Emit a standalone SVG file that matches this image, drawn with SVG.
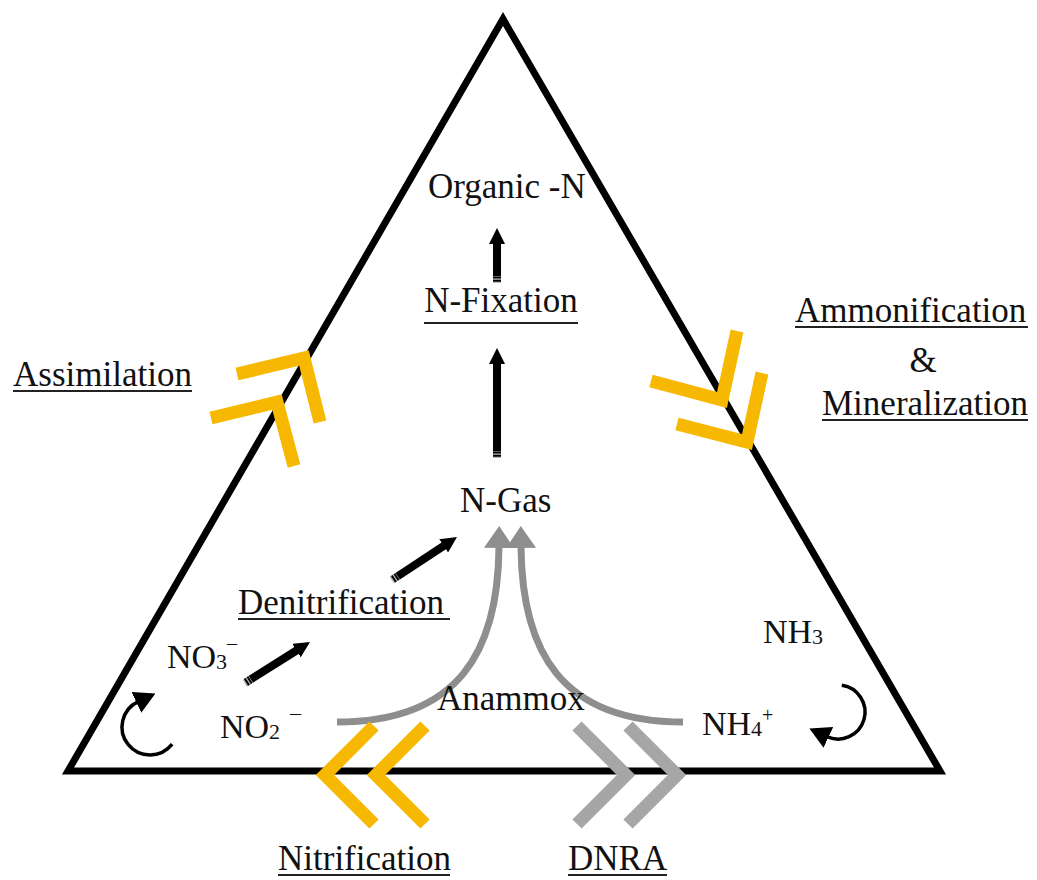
<svg xmlns="http://www.w3.org/2000/svg" width="1037" height="880" viewBox="0 0 1037 880">
<style>
  text { font-family: "Liberation Serif", "Times New Roman", serif; fill: #111; }
  .lbl { font-size: 35px; }
  .chem { font-size: 34px; }
  .sub { font-size: 22px; }
  .ul { stroke: #222; stroke-width: 2; }
  .yel { fill: none; stroke: #F6B800; stroke-width: 13; stroke-linejoin: miter; stroke-linecap: butt; }
  .gch { fill: none; stroke: #A6A6A6; stroke-width: 13; stroke-linejoin: miter; stroke-linecap: butt; }
  .blk { fill: none; stroke: #000; stroke-width: 8; marker-end: url(#hb); }
  .stripe { fill: none; stroke: #fff; stroke-width: 9; stroke-dasharray: 1.2 2; opacity: 0.75; }
  .gray { fill: none; stroke: #8E8E8E; stroke-width: 7; marker-end: url(#hg); }
  .curl { fill: none; stroke: #000; stroke-width: 3.5; marker-end: url(#hc); }
</style>
<defs>
  <marker id="hb" markerUnits="userSpaceOnUse" viewBox="0 0 16 16" markerWidth="16" markerHeight="16" refX="1" refY="8" orient="auto">
    <path d="M0,0 L16,8 L0,16 z" fill="#000"/>
  </marker>
  <marker id="hg" markerUnits="userSpaceOnUse" viewBox="0 0 22 30" markerWidth="22" markerHeight="30" refX="1" refY="15" orient="auto">
    <path d="M0,0 L22,15 L0,30 z" fill="#8E8E8E"/>
  </marker>
  <marker id="hc" markerUnits="userSpaceOnUse" viewBox="0 0 21 23" markerWidth="21" markerHeight="23" refX="2" refY="11.5" orient="auto">
    <path d="M0,0 L21,11.5 L0,23 z" fill="#000"/>
  </marker>
</defs>
<rect width="1037" height="880" fill="#fff"/>

<g id="triangle">
  <polygon points="503,19 68,771 940,771" fill="none" stroke="#000" stroke-width="7" stroke-linejoin="miter"/>
</g>

<g id="connectors">
  <line class="blk" x1="497" y1="283" x2="497" y2="243"/>
  <line class="stripe" x1="497" y1="283" x2="497" y2="276"/>
  <line class="blk" x1="497" y1="458" x2="497" y2="363"/>
  <line class="stripe" x1="497" y1="458" x2="497" y2="451"/>
  <line class="blk" x1="392" y1="580" x2="444.5" y2="545.3"/>
  <line class="stripe" x1="392" y1="580" x2="397.8" y2="576.2"/>
  <line class="blk" x1="245" y1="683" x2="297.3" y2="650"/>
  <line class="stripe" x1="245" y1="683" x2="250.9" y2="679.3"/>
  <path class="gray" d="M337,722 C460,722 498,650 499,547"/>
  <path class="gray" d="M683,722 C560,722 522,650 521,547"/>
  <path class="curl" d="M172.1,744.2 A28,28 0 1 1 138.2,701.6"/>
  <path class="curl" d="M841.8,685.3 A27,27 0 1 1 826.6,736.5"/>
  <g id="assimilation-chevrons">
    <polyline class="yel" points="237,374 304,358 320,422"/>
    <polyline class="yel" points="211,418 277,402 294,466"/>
  </g>
  <g id="ammonification-chevrons">
    <polyline class="yel" points="651,381 722,400 737,331"/>
    <polyline class="yel" points="677,424 747,442 762,373"/>
  </g>
  <g id="nitrification-chevrons">
    <polyline class="yel" points="374,726 325,775 374,824"/>
    <polyline class="yel" points="425,726 376,775 425,824"/>
  </g>
  <g id="dnra-chevrons">
    <polyline class="gch" points="577,726 626,775 577,824"/>
    <polyline class="gch" points="628,726 677,775 628,824"/>
  </g>
</g>

<g id="organic-n"><text class="lbl" x="428" y="198">Organic -N</text></g>
<g id="n-fixation">
  <text class="lbl" x="501" y="312" text-anchor="middle">N-Fixation</text>
  <line class="ul" x1="424" y1="323" x2="578" y2="323"/>
</g>
<g id="n-gas"><text class="lbl" x="460" y="512">N-Gas</text></g>
<g id="assimilation">
  <text class="lbl" x="13" y="386">Assimilation</text>
  <line class="ul" x1="13" y1="391" x2="192" y2="391"/>
</g>
<g id="ammonification">
  <text class="lbl" x="795" y="322">Ammonification</text>
  <line class="ul" x1="795" y1="327" x2="1028" y2="327"/>
  <text class="lbl" x="923" y="372" text-anchor="middle">&amp;</text>
  <text class="lbl" x="822" y="415">Mineralization</text>
  <line class="ul" x1="822" y1="420" x2="1028" y2="420"/>
</g>
<g id="denitrification">
  <text class="lbl" x="238" y="614">Denitrification</text>
  <line class="ul" x1="238" y1="619" x2="450" y2="619"/>
</g>
<g id="anammox"><text class="lbl" x="437" y="710">Anammox</text></g>
<g id="nitrification">
  <text class="lbl" x="278" y="870">Nitrification</text>
  <line class="ul" x1="278" y1="875" x2="450" y2="875"/>
</g>
<g id="dnra">
  <text class="lbl" x="568" y="870">DNRA</text>
  <line class="ul" x1="568" y1="875" x2="667" y2="875"/>
</g>
<g id="no3">
  <text class="chem" x="167" y="668">NO<tspan class="sub" dy="1">3</tspan><tspan style="font-size:20px" dy="-19">–</tspan></text>
</g>
<g id="no2">
  <text class="chem" x="220" y="738">NO<tspan class="sub" dy="1">2</tspan><tspan style="font-size:22px" x="290" y="720">–</tspan></text>
</g>
<g id="nh3">
  <text class="chem" x="763" y="643">NH<tspan class="sub" dy="1">3</tspan></text>
</g>
<g id="nh4">
  <text class="chem" x="702" y="735">NH<tspan class="sub" dy="1">4</tspan><tspan style="font-size:20px" dy="-14">+</tspan></text>
</g>
</svg>
